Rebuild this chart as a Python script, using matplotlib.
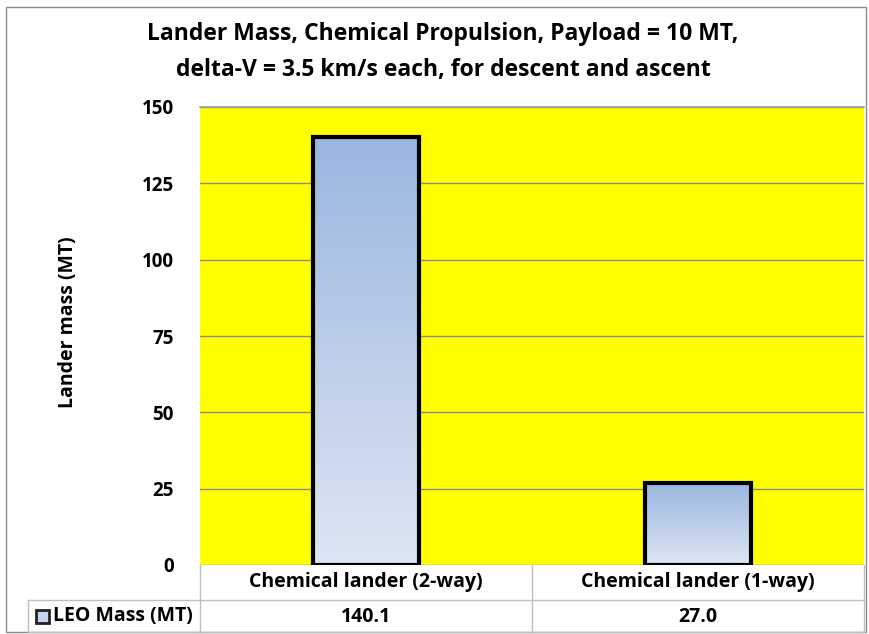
import matplotlib
matplotlib.use("Agg")
import matplotlib.pyplot as plt
import numpy as np
from matplotlib.patches import Rectangle
from matplotlib.colors import LinearSegmentedColormap
from matplotlib.lines import Line2D

categories = ["Chemical lander (2-way)", "Chemical lander (1-way)"]
values = [140.1, 27.0]
series_name = "LEO Mass (MT)"
yticks = [0, 25, 50, 75, 100, 125, 150]
title = "Lander Mass, Chemical Propulsion, Payload = 10 MT,\ndelta-V = 3.5 km/s each, for descent and ascent"
ylabel = "Lander mass (MT)"

plt.rcParams['font.family'] = ['Open Sans', 'DejaVu Sans']
plt.rcParams['font.weight'] = 'bold'

W, H = 869, 634
fig = plt.figure(figsize=(W / 100, H / 100), dpi=100)

def fx(x): return x / W
def fy(y): return 1 - y / H

L, R, T, B = 200, 864, 107, 565
ax = fig.add_axes([fx(L), fy(B), fx(R) - fx(L), fy(T) - fy(B)])
ax.set_facecolor('#FFFF00')
ax.set_xlim(-0.5, len(categories) - 0.5)
ax.set_ylim(0, 150)
ax.set_yticks(yticks)
ax.set_yticklabels([str(t) for t in yticks], fontsize=13.5, fontweight='bold')
ax.tick_params(axis='y', length=0, pad=19)
ax.set_xticks([])
ax.grid(axis='y', color='#8C8C8C', linewidth=1)
ax.set_axisbelow(True)
for s in ['left', 'right', 'bottom']:
    ax.spines[s].set_visible(False)
ax.spines['top'].set_color('#A0A0A0')
ax.spines['top'].set_linewidth(1.2)

cmap = LinearSegmentedColormap.from_list('g', ['#DEE6F3', '#9AB6E0'])
bw = 0.32
bars = ax.bar(range(len(values)), values, width=bw, facecolor='none',
              edgecolor='black', linewidth=3, zorder=3)
for i, (b, v) in enumerate(zip(bars, values)):
    grad = np.linspace(0, 1, 256).reshape(-1, 1)
    im = ax.imshow(grad, cmap=cmap, origin='lower', aspect='auto',
                   extent=[i - bw / 2, i + bw / 2, 0, v], zorder=2)
    im.set_clip_path(b)
ax.set_xlim(-0.5, len(categories) - 0.5)
ax.set_ylim(0, 150)

fig.text(fx(68), fy(322), ylabel, rotation=90, ha='center', va='center',
         fontsize=14, fontweight='bold')
fig.text(fx(443), fy(52), title, ha='center', va='center', fontsize=16.5,
         fontweight='bold', linespacing=1.65)

# table
lc = '#BFBFBF'
def hline(y, x0, x1):
    fig.add_artist(Line2D([fx(x0), fx(x1)], [fy(y), fy(y)], color=lc, lw=1))
def vline(x, y0, y1):
    fig.add_artist(Line2D([fx(x), fx(x)], [fy(y0), fy(y1)], color=lc, lw=1))

hline(600, 28, R)
hline(632, 28, R)
vline(28, 600, 632)
colx = [L, 532, R]
for x in colx:
    vline(x, B, 632)
for i, (c, v) in enumerate(zip(categories, values)):
    cx = (colx[i] + colx[i + 1]) / 2
    fig.text(fx(cx), fy(582), c, ha='center', va='center', fontsize=14, fontweight='bold')
    fig.text(fx(cx), fy(617), f"{v:.1f}", ha='center', va='center', fontsize=14, fontweight='bold')
fig.add_artist(Rectangle((fx(36), fy(623)), fx(13), 13 / H, facecolor='#C5D3EC',
                         edgecolor='#222222', lw=2, transform=fig.transFigure))
fig.text(fx(53), fy(616), series_name, ha='left', va='center', fontsize=14, fontweight='bold')

# outer frame
fig.add_artist(Rectangle((fx(6), fy(632)), fx(860), 625 / H, facecolor='none',
                         edgecolor='#8C8C8C', lw=1, transform=fig.transFigure))

fig.savefig('out.png', dpi=100)
